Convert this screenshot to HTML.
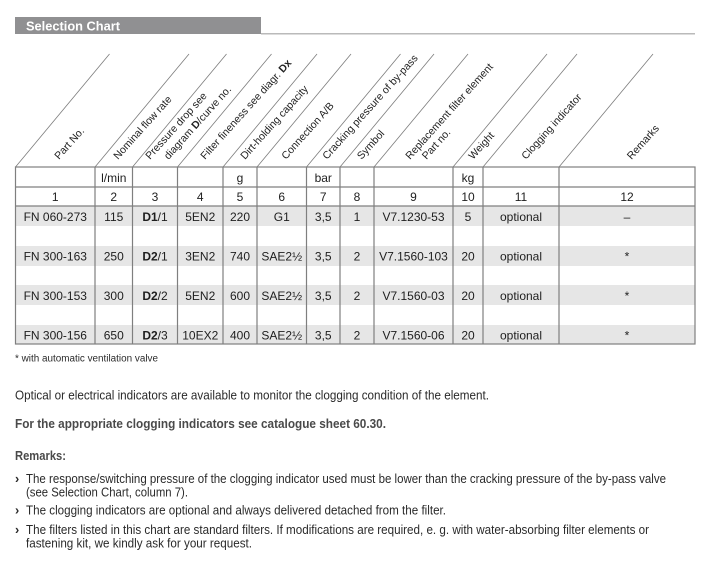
<!DOCTYPE html>
<html>
<head>
<meta charset="utf-8">
<style>
  html, body { margin:0; padding:0; background:#fff; }
  svg { display:block; }
  text { font-family: "Liberation Sans", Arial, sans-serif; }
</style>
</head>
<body>
<svg width="720" height="575" viewBox="0 0 720 575" xmlns="http://www.w3.org/2000/svg">
  <rect x="0" y="0" width="720" height="575" fill="#ffffff"/>

  <!-- Title bar -->
  <rect x="15" y="17" width="246" height="17" fill="#909092"/>
  <text x="26" y="30.5" font-size="13" font-weight="bold" fill="#ffffff" textLength="94" lengthAdjust="spacingAndGlyphs">Selection Chart</text>
  <line x1="261" y1="33.8" x2="695" y2="33.8" stroke="#a3a3a3" stroke-width="1.2"/>

  <!-- Gray bands -->
  <rect x="15.5" y="206" width="679.5" height="20" fill="#e6e6e6"/>
  <rect x="15.5" y="246" width="679.5" height="20" fill="#e6e6e6"/>
  <rect x="15.5" y="285" width="679.5" height="20" fill="#e6e6e6"/>
  <rect x="15.5" y="325" width="679.5" height="19" fill="#e6e6e6"/>

  <!-- Diagonal header lines -->
  <g stroke="#7c7c7c" stroke-width="0.8">
    <line x1="15.5" y1="167" x2="109.5" y2="54"/>
    <line x1="95" y1="167" x2="189" y2="54"/>
    <line x1="132.5" y1="167" x2="226.5" y2="54"/>
    <line x1="177.5" y1="167" x2="271.5" y2="54"/>
    <line x1="223" y1="167" x2="317" y2="54"/>
    <line x1="257" y1="167" x2="351" y2="54"/>
    <line x1="306.5" y1="167" x2="400.5" y2="54"/>
    <line x1="340" y1="167" x2="434" y2="54"/>
    <line x1="374" y1="167" x2="468" y2="54"/>
    <line x1="453" y1="167" x2="547" y2="54"/>
    <line x1="483" y1="167" x2="577" y2="54"/>
    <line x1="559" y1="167" x2="653" y2="54"/>
  </g>

  <!-- Table grid -->
  <g stroke="#7f7f7f" stroke-width="1.2" fill="none">
    <rect x="15.5" y="167" width="679.5" height="177"/>
    <line x1="15.5" y1="187" x2="695" y2="187"/>
    <line x1="15.5" y1="206" x2="695" y2="206"/>
    <line x1="95" y1="167" x2="95" y2="344"/>
    <line x1="132.5" y1="167" x2="132.5" y2="344"/>
    <line x1="177.5" y1="167" x2="177.5" y2="344"/>
    <line x1="223" y1="167" x2="223" y2="344"/>
    <line x1="257" y1="167" x2="257" y2="344"/>
    <line x1="306.5" y1="167" x2="306.5" y2="344"/>
    <line x1="340" y1="167" x2="340" y2="344"/>
    <line x1="374" y1="167" x2="374" y2="344"/>
    <line x1="453" y1="167" x2="453" y2="344"/>
    <line x1="483" y1="167" x2="483" y2="344"/>
    <line x1="559" y1="167" x2="559" y2="344"/>
  </g>

  <!-- Rotated header labels -->
  <g font-size="10.5" fill="#222222">
    <text transform="translate(59,160) rotate(-48)">Part No.</text>
    <text transform="translate(118,160) rotate(-48)">Nominal flow rate</text>
    <text transform="translate(150,160) rotate(-48)">Pressure drop see</text>
    <text transform="translate(168.5,160) rotate(-48)">diagram <tspan font-weight="bold">D</tspan>/curve no.</text>
    <text transform="translate(205,160) rotate(-48)">Filter fineness see diagr. <tspan font-weight="bold">Dx</tspan></text>
    <text transform="translate(245,160) rotate(-48)">Dirt-holding capacity</text>
    <text transform="translate(286,160) rotate(-48)">Connection A/B</text>
    <text transform="translate(327,160) rotate(-48)">Cracking pressure of by-pass</text>
    <text transform="translate(361.5,160) rotate(-48)">Symbol</text>
    <text transform="translate(410,160) rotate(-48)">Replacement filter element</text>
    <text transform="translate(426.5,160) rotate(-48)">Part no.</text>
    <text transform="translate(473,160) rotate(-48)">Weight</text>
    <text transform="translate(526,160) rotate(-48)">Clogging indicator</text>
    <text transform="translate(631.5,160) rotate(-48)">Remarks</text>
  </g>

  <!-- Units row -->
  <g font-size="12" fill="#1e1e1e" text-anchor="middle">
    <text x="113.75" y="182">l/min</text>
    <text x="240" y="182">g</text>
    <text x="323.25" y="182">bar</text>
    <text x="468" y="182">kg</text>
  </g>

  <!-- Number row -->
  <g font-size="12" fill="#1e1e1e" text-anchor="middle">
    <text x="55.25" y="201">1</text>
    <text x="113.75" y="201">2</text>
    <text x="155" y="201">3</text>
    <text x="200.25" y="201">4</text>
    <text x="240" y="201">5</text>
    <text x="281.75" y="201">6</text>
    <text x="323.25" y="201">7</text>
    <text x="357" y="201">8</text>
    <text x="413.5" y="201">9</text>
    <text x="468" y="201">10</text>
    <text x="521" y="201">11</text>
    <text x="627" y="201">12</text>
  </g>

  <!-- Data rows -->
  <g font-size="12" fill="#1e1e1e" text-anchor="middle">
    <!-- row 1 -->
    <text x="55.25" y="221">FN 060-273</text>
    <text x="113.75" y="221">115</text>
    <text x="155" y="221"><tspan font-weight="bold">D1</tspan>/1</text>
    <text x="200.25" y="221">5EN2</text>
    <text x="240" y="221">220</text>
    <text x="281.75" y="221">G1</text>
    <text x="323.25" y="221">3,5</text>
    <text x="357" y="221">1</text>
    <text x="413.5" y="221">V7.1230-53</text>
    <text x="468" y="221">5</text>
    <text x="521" y="221">optional</text>
    <text x="627" y="221">–</text>
    <!-- row 2 -->
    <text x="55.25" y="260.5">FN 300-163</text>
    <text x="113.75" y="260.5">250</text>
    <text x="155" y="260.5"><tspan font-weight="bold">D2</tspan>/1</text>
    <text x="200.25" y="260.5">3EN2</text>
    <text x="240" y="260.5">740</text>
    <text x="281.75" y="260.5">SAE2½</text>
    <text x="323.25" y="260.5">3,5</text>
    <text x="357" y="260.5">2</text>
    <text x="413.5" y="260.5">V7.1560-103</text>
    <text x="468" y="260.5">20</text>
    <text x="521" y="260.5">optional</text>
    <text x="627" y="260.5">*</text>
    <!-- row 3 -->
    <text x="55.25" y="300">FN 300-153</text>
    <text x="113.75" y="300">300</text>
    <text x="155" y="300"><tspan font-weight="bold">D2</tspan>/2</text>
    <text x="200.25" y="300">5EN2</text>
    <text x="240" y="300">600</text>
    <text x="281.75" y="300">SAE2½</text>
    <text x="323.25" y="300">3,5</text>
    <text x="357" y="300">2</text>
    <text x="413.5" y="300">V7.1560-03</text>
    <text x="468" y="300">20</text>
    <text x="521" y="300">optional</text>
    <text x="627" y="300">*</text>
    <!-- row 4 -->
    <text x="55.25" y="339.5">FN 300-156</text>
    <text x="113.75" y="339.5">650</text>
    <text x="155" y="339.5"><tspan font-weight="bold">D2</tspan>/3</text>
    <text x="200.25" y="339.5">10EX2</text>
    <text x="240" y="339.5">400</text>
    <text x="281.75" y="339.5">SAE2½</text>
    <text x="323.25" y="339.5">3,5</text>
    <text x="357" y="339.5">2</text>
    <text x="413.5" y="339.5">V7.1560-06</text>
    <text x="468" y="339.5">20</text>
    <text x="521" y="339.5">optional</text>
    <text x="627" y="339.5">*</text>
  </g>

  <!-- Footnote -->
  <text x="15" y="361.5" font-size="10" fill="#2a2a2a" textLength="143" lengthAdjust="spacingAndGlyphs">* with automatic ventilation valve</text>

  <!-- Body text -->
  <text x="15" y="399.5" font-size="12.6" fill="#2a2a2a" textLength="474" lengthAdjust="spacingAndGlyphs">Optical or electrical indicators are available to monitor the clogging condition of the element.</text>
  <text x="15" y="428" font-size="12.6" font-weight="bold" fill="#4a4a4a" textLength="371" lengthAdjust="spacingAndGlyphs">For the appropriate clogging indicators see catalogue sheet 60.30.</text>
  <text x="15" y="460" font-size="12.6" font-weight="bold" fill="#4a4a4a" textLength="51" lengthAdjust="spacingAndGlyphs">Remarks:</text>

  <g font-size="12.6" fill="#2a2a2a">
    <text x="15" y="483" font-weight="bold">›</text>
    <text x="26" y="483" textLength="640" lengthAdjust="spacingAndGlyphs">The response/switching pressure of the clogging indicator used must be lower than the cracking pressure of the by-pass valve</text>
    <text x="26" y="496.5" textLength="162" lengthAdjust="spacingAndGlyphs">(see Selection Chart, column 7).</text>
    <text x="15" y="514.3" font-weight="bold">›</text>
    <text x="26" y="514.3" textLength="420" lengthAdjust="spacingAndGlyphs">The clogging indicators are optional and always delivered detached from the filter.</text>
    <text x="15" y="534" font-weight="bold">›</text>
    <text x="26" y="534" textLength="623" lengthAdjust="spacingAndGlyphs">The filters listed in this chart are standard filters. If modifications are required, e. g. with water-absorbing filter elements or</text>
    <text x="26" y="547.7" textLength="226" lengthAdjust="spacingAndGlyphs">fastening kit, we kindly ask for your request.</text>
  </g>
</svg>
</body>
</html>
